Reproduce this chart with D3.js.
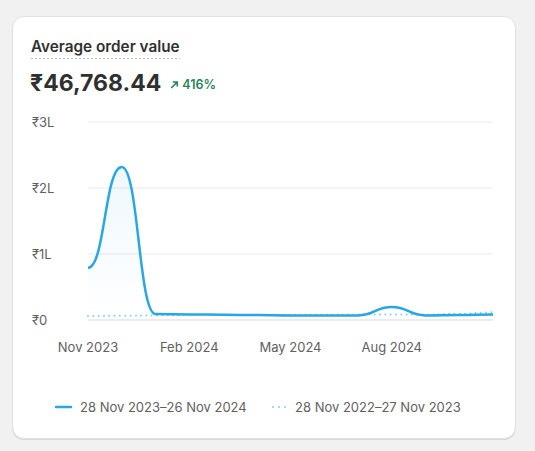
<!DOCTYPE html>
<html>
<head>
<meta charset="utf-8">
<script src="https://cdn.jsdelivr.net/npm/d3@7"></script>
<style>
  body { margin: 0; background: #f1f1f1; font-family: Inter, "Noto Sans", sans-serif; }
  #card {
    position: absolute; left: 12px; top: 16px; width: 502px; height: 421px;
    background: #fff; border: 1px solid #e1e1e1; border-radius: 12px;
    box-shadow: 0 1px 0 #d8d8d8;
  }
  svg { position: absolute; left: 0; top: 0; }
</style>
</head>
<body>
<div id="card"></div>
<svg id="chart" width="535" height="451"></svg>
<script>
var months = ["Nov 2023","Dec 2023","Jan 2024","Feb 2024","Mar 2024","Apr 2024","May 2024","Jun 2024","Jul 2024","Aug 2024","Sep 2024","Oct 2024","Nov 2024"];
var currentValues = [79000, 232000, 9000, 8500, 8000, 7500, 7000, 6800, 7000, 19700, 7000, 7500, 8500];
var previousValues = [6000, 6500, 7000, 7500, 8000, 8000, 8000, 8200, 8300, 8300, 8300, 9500, 11700];
var yTicks = [0, 100000, 200000, 300000];
var yTickLabels = ["₹0", "₹1L", "₹2L", "₹3L"];
var xTickLabels = ["Nov 2023", "Feb 2024", "May 2024", "Aug 2024"];
var legendLabels = ["28 Nov 2023–26 Nov 2024", "28 Nov 2022–27 Nov 2023"];

var lineColor = "#29a6e3";
var prevColor = "#86d0f2";
var textGrey = "#616161";

var svg = d3.select("#chart");

// header
var title = svg.append("text")
    .attr("x", 31).attr("y", 52)
    .attr("font-size", 15.3).attr("font-weight", 600)
    .attr("fill", "#303030")
    .text("Average order value");
var tw = title.node().getComputedTextLength();
svg.append("line")
    .attr("x1", 31).attr("x2", 31 + tw)
    .attr("y1", 58.5).attr("y2", 58.5)
    .attr("stroke", "#bdbdbd").attr("stroke-width", 1.2)
    .attr("stroke-dasharray", "2,2");

var big = svg.append("text")
    .attr("x", 30).attr("y", 91)
    .attr("font-size", 23).attr("font-weight", 700)
    .attr("fill", "#303030")
    .text("₹46,768.44");
var bw = big.node().getComputedTextLength();

var ax = 30 + bw + 10;
svg.append("path")
    .attr("d", "M" + ax + "," + 88 + " L" + (ax + 6) + "," + 82 + " M" + (ax + 1.5) + "," + 82 + " L" + (ax + 6) + "," + 82 + " L" + (ax + 6) + "," + 86.5)
    .attr("stroke", "#29845a").attr("stroke-width", 1.6).attr("fill", "none");
svg.append("text")
    .attr("x", ax + 11).attr("y", 89)
    .attr("font-size", 12.5).attr("font-weight", 600)
    .attr("fill", "#29845a")
    .text("416%");

// scales
var x = d3.scalePoint().domain(months).range([88, 493]);
var y = d3.scaleLinear().domain([0, 300000]).range([320, 122]);

// grid
svg.append("g").selectAll("line")
    .data(yTicks)
  .enter().append("line")
    .attr("x1", 88).attr("x2", 493)
    .attr("y1", function(d) { return y(d); })
    .attr("y2", function(d) { return y(d); })
    .attr("stroke", function(d) { return d === 0 ? "#e6e6e6" : "#f0f0f0"; })
    .attr("stroke-width", 1.5);

svg.append("g").selectAll("text")
    .data(yTicks)
  .enter().append("text")
    .attr("x", 32)
    .attr("y", function(d) { return y(d); })
    .attr("dy", "0.35em")
    .attr("font-size", 13)
    .attr("fill", textGrey)
    .text(function(d, i) { return yTickLabels[i]; });

svg.append("g").selectAll("text")
    .data(xTickLabels)
  .enter().append("text")
    .attr("x", function(d) { return x(d); })
    .attr("y", 347)
    .attr("dy", "0.35em")
    .attr("text-anchor", "middle")
    .attr("font-size", 13)
    .attr("fill", textGrey)
    .text(function(d) { return d; });

// gradient
var defs = svg.append("defs");
var grad = defs.append("linearGradient")
    .attr("id", "areaGrad")
    .attr("x1", 0).attr("x2", 0).attr("y1", 0).attr("y2", 1);
grad.append("stop").attr("offset", "0%").attr("stop-color", lineColor).attr("stop-opacity", 0.08);
grad.append("stop").attr("offset", "100%").attr("stop-color", lineColor).attr("stop-opacity", 0);

var area = d3.area()
    .x(function(d, i) { return x(months[i]); })
    .y0(y(0))
    .y1(function(d) { return y(d); })
    .curve(d3.curveBumpX);

var line = d3.line()
    .x(function(d, i) { return x(months[i]); })
    .y(function(d) { return y(d); })
    .curve(d3.curveBumpX);

svg.append("path")
    .datum(currentValues)
    .attr("d", area)
    .attr("fill", "url(#areaGrad)");

svg.append("path")
    .datum(previousValues)
    .attr("d", line)
    .attr("fill", "none")
    .attr("stroke", prevColor)
    .attr("stroke-width", 2)
    .attr("stroke-dasharray", "0.01,5.3")
    .attr("stroke-linecap", "round");

svg.append("path")
    .datum(currentValues)
    .attr("d", line)
    .attr("fill", "none")
    .attr("stroke", lineColor)
    .attr("stroke-width", 2.5)
    .attr("stroke-linejoin", "round");

// legend
var lg = svg.append("g");
lg.append("line")
    .attr("x1", 56).attr("x2", 71).attr("y1", 407).attr("y2", 407)
    .attr("stroke", lineColor).attr("stroke-width", 2.5).attr("stroke-linecap", "round");
lg.append("text")
    .attr("x", 80).attr("y", 407).attr("dy", "0.35em")
    .attr("font-size", 13).attr("fill", textGrey)
    .text(legendLabels[0]);
lg.append("line")
    .attr("x1", 273).attr("x2", 286).attr("y1", 407).attr("y2", 407)
    .attr("stroke", prevColor).attr("stroke-width", 2)
    .attr("stroke-dasharray", "0.01,6").attr("stroke-linecap", "round");
lg.append("text")
    .attr("x", 295).attr("y", 407).attr("dy", "0.35em")
    .attr("font-size", 13).attr("fill", textGrey)
    .text(legendLabels[1]);
</script>
</body>
</html>
